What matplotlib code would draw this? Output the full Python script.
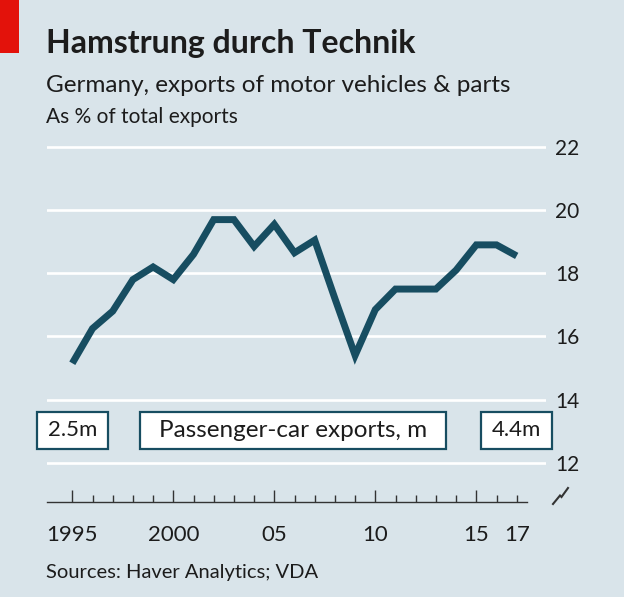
import numpy as np
import matplotlib
matplotlib.use("Agg")
import matplotlib.pyplot as plt
from matplotlib.lines import Line2D
from matplotlib.patches import Rectangle

# data
years = list(range(1995, 2018))
share = [15.15, 16.25, 16.8, 17.8, 18.2, 17.8, 18.6, 19.7, 19.7, 18.85, 19.55,
         18.65, 19.05, 17.2, 15.4, 16.85, 17.5, 17.5, 17.5, 18.1, 18.9, 18.9, 18.55]
yticks = [12, 14, 16, 18, 20, 22]
major_years = [1995, 2000, 2005, 2010, 2015]
year_labels = ["1995", "2000", "05", "10", "15"]
last_label = "17"
cars_first = "2.5m"
cars_last = "4.4m"
cars_title = "Passenger-car exports, m"

bg = "#d9e4ea"
teal = "#174d61"
ink = "#1c1c1c"
W, H = 624, 597

plt.rcParams['font.family'] = ['Lato', 'DejaVu Sans']

fig = plt.figure(figsize=(W / 100, H / 100), dpi=100, facecolor=bg)

def fx(px):
    return px / W

def fy(px):
    return 1 - px / H

# main axes: gridlines span x 47..546 px, y 12 at 462.7 px, 22 at 147 px
ppu = (462.7 - 147) / 10
ppy = 20.2
ax = fig.add_axes([fx(47), fy(470), (546 - 47) / W, 330 / H])
ax.set_facecolor("none")
ax.set_xlim(1995 - (72.3 - 47) / ppy, 1995 + (546 - 72.3) / ppy)
ax.set_ylim(12 - 7.3 / ppu, 22 + 7 / ppu)
for s in ax.spines.values():
    s.set_visible(False)
for v in yticks:
    ax.axhline(v, color="white", lw=1.9, zorder=1)
ax.yaxis.tick_right()
ax.set_yticks(yticks)
ax.tick_params(axis="y", length=0, pad=6.5, labelsize=15, labelcolor=ink)
ax.set_xticks([])

ax.plot(years, share, color=teal, lw=5, solid_joinstyle="miter",
        solid_capstyle="butt", zorder=3)

# label boxes for passenger-car exports (sizes in pixels converted to data units)
box_y = 13.02
box_h = 37 / ppu

def label_box(xc, width_px, text, size):
    w = width_px / ppy
    ax.add_patch(Rectangle((xc - w / 2, box_y - box_h / 2), w, box_h, fc="white",
                           ec=teal, lw=1.6, zorder=4, clip_on=False))
    ax.text(xc, box_y, text, ha="center", va="center", fontsize=size, color=ink,
            zorder=5, clip_on=False)

label_box(years[0], 71, cars_first, 16)
label_box(years[-1], 71, cars_last, 16)
label_box(2005.93, 306, cars_title, 17.5)

# x axis, drawn separately below the break
axx = fig.add_axes([fx(47.3), fy(501.7), (526.7 - 47.3) / W, 0.0001])
axx.set_facecolor("none")
axx.set_xlim(1995 - (72.3 - 47.3) / ppy, 1995 + (526.7 - 72.3) / ppy)
for k in ["top", "left", "right"]:
    axx.spines[k].set_visible(False)
axx.spines["bottom"].set_color("#333333")
axx.spines["bottom"].set_linewidth(1.0)
axx.set_yticks([])
axx.set_xticks(major_years, labels=year_labels)
axx.set_xticks(years, labels=[last_label if y == years[-1] else "" for y in years],
               minor=True)
axx.tick_params(axis="x", which="major", direction="in", length=8.5, width=1.0,
                color="#333333", pad=17, labelsize=16, labelcolor=ink)
axx.tick_params(axis="x", which="minor", direction="in", length=5, width=1.0,
                color="#333333", pad=17, labelsize=16, labelcolor=ink)

# axis break mark
fig.add_artist(Line2D([fx(553), fx(560), fx(561.5), fx(568)],
                      [fy(504), fy(495.5), fy(497), fy(488)],
                      color="#333333", lw=1.5, solid_joinstyle="miter"))

# red tag
fig.add_artist(Rectangle((0, fy(53)), fx(19), 53 / H, color="#e3120b", lw=0,
                         transform=fig.transFigure))

fig.text(fx(46), fy(53), "Hamstrung durch Technik", fontsize=23, fontweight="bold",
         color=ink, va="baseline")
fig.text(fx(46), fy(92), "Germany, exports of motor vehicles & parts", fontsize=17.5,
         color=ink, va="baseline")
fig.text(fx(46), fy(123), "As % of total exports", fontsize=15, color=ink,
         va="baseline")
fig.text(fx(46), fy(578), "Sources: Haver Analytics; VDA", fontsize=14.5, color=ink,
         va="baseline")

fig.savefig("out.png", dpi=100, facecolor=bg)
